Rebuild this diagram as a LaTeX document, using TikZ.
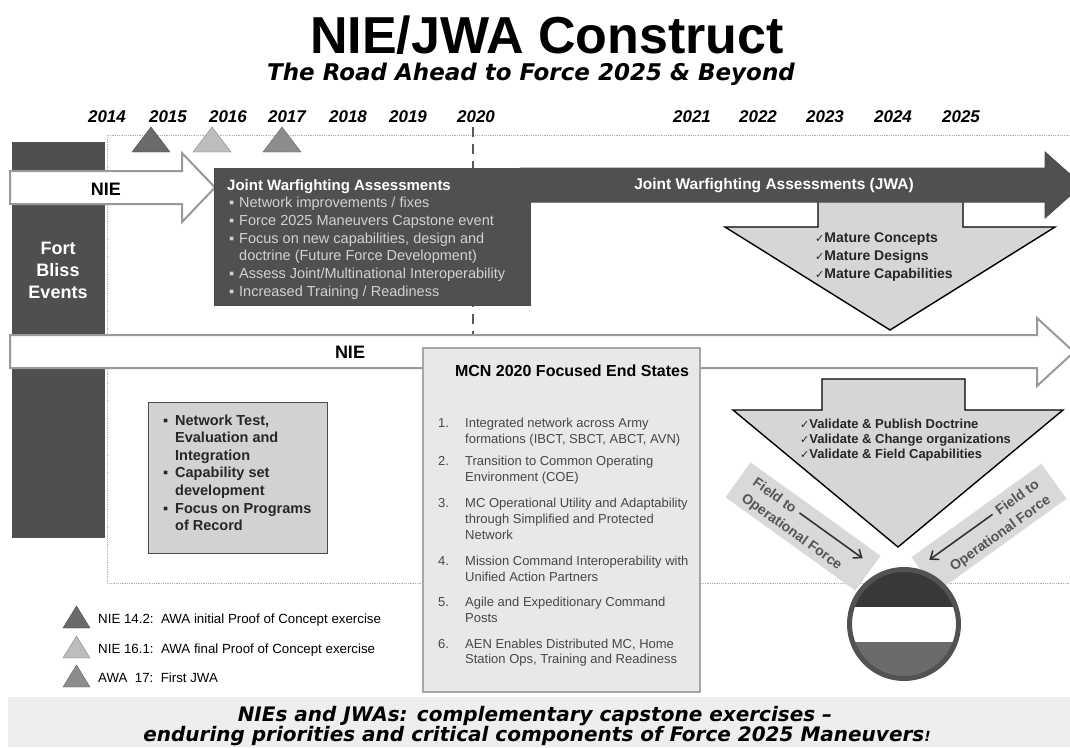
\documentclass[tikz,border=0pt]{standalone}
\usepackage{fontspec}
\setmainfont{Liberation Sans}
\newfontfamily\verd{DejaVu Sans}
\usetikzlibrary{arrows.meta}

\definecolor{darkcol}{HTML}{4F4F4F}
\definecolor{jwagray}{HTML}{505050}
\definecolor{jwatext}{HTML}{D2D2D2}
\definecolor{arrowfill}{HTML}{D6D6D6}
\definecolor{mcnfill}{HTML}{E8E8E8}
\definecolor{netfill}{HTML}{D2D2D2}
\definecolor{bannerfill}{HTML}{EEEEEE}
\definecolor{tridark}{HTML}{6A6A6A}
\definecolor{trilight}{HTML}{BDBDBD}
\definecolor{trimid}{HTML}{8C8C8C}
\definecolor{fieldfill}{HTML}{D9D9D9}
\definecolor{fieldtext}{HTML}{555555}
\definecolor{mcntext}{HTML}{474747}

\newcommand{\fsz}[2]{\fontsize{#1}{#2}\selectfont}
\newcommand{\bul}[1][10pt]{\makebox[#1][l]{▪}}
\newcommand{\nobul}[1][10pt]{\hspace*{#1}}
\newcommand{\itemno}[1]{\makebox[27pt][l]{#1}}
\newcommand{\chk}{{\verd\fsz{11}{11}✓}}

\begin{document}
\begin{tikzpicture}[x=1pt, y=-1pt,
    year/.style={font=\bfseries\itshape\fsz{17}{17}, anchor=base, inner sep=0pt},
    bigword/.style={font=\bfseries\fsz{18}{18}, inner sep=0pt},
    txtline/.style={anchor=base west, inner sep=0pt},
    nieshape/.style={fill=white, draw=black!40, line width=2pt, line join=miter},
    jwashape/.style={fill=jwagray, draw=black!70, line width=1pt, line join=miter},
    downshape/.style={fill=arrowfill, draw=black, line width=1.4pt, line join=miter},
    fieldbox/.style={fill=fieldfill},
    fieldword/.style={font=\bfseries\fsz{14}{14}, text=fieldtext, inner sep=0pt},
    fieldarrow/.style={-{Straight Barb[length=7pt,width=11pt]}, line width=1.6pt, black!80},
    bannerline/.style={font=\verd\bfseries\itshape\fsz{20}{20}, anchor=base, inner sep=0pt}
]
\useasboundingbox (0,0) rectangle (1070,747);
\fill[white] (0,0) rectangle (1070,747);

% Title
\node[font=\bfseries\fsz{52}{52}, anchor=base, inner sep=0pt] (title) at (547,53) {NIE/JWA Construct};
\node[font=\verd\bfseries\itshape\fsz{23}{23}, anchor=base, inner sep=0pt] (subtitle) at (531,80) {The Road Ahead to Force 2025 \& Beyond};

% Years
\foreach \x/\yr in {107/2014, 168/2015, 228/2016, 287/2017, 348/2018, 408/2019, 476/2020, 692/2021, 758/2022, 825/2023, 893/2024, 961/2025}
    \node[year] (y\yr) at (\x,122) {\yr};

% Timeline frame and 2020 line
\draw[gray!60, densely dotted, line width=.8pt] (1070,135) -- (107,135) -- (107,583) -- (1070,583);
\draw[black!65, line width=2.5pt, dash pattern=on 10pt off 7pt] (473,127) -- (473,350);

% Markers
\foreach \x/\c in {151/tridark, 212/trilight, 282/trimid}
    \filldraw[fill=\c, draw=\c!70!black] (\x-19,152) -- (\x+19,152) -- (\x,127) -- cycle;

% Fort Bliss column
\fill[darkcol] (12,142) rectangle (105,538);
\node[font=\bfseries\fsz{18}{22}, text=white, align=center] (bliss) at (58,270) {Fort\\Bliss\\Events};

% NIE arrow (top)
\draw[nieshape] (10,171) -- (182,171) -- (182,153) -- (215,187.5) -- (182,222) -- (182,204) -- (10,204) -- cycle;
\node[bigword] (nie1) at (106,189) {NIE};

% Mature arrow
\draw[downshape] (818,200) -- (963,200) -- (963,227) -- (1055,227) -- (890,330) -- (725,227) -- (818,227) -- cycle;
\foreach \t [count=\i] in {Concepts, Designs, Capabilities}
    \node[txtline, font=\bfseries\fsz{14}{14}, text=black!85] (mature\i) at (815,224+18*\i) {\chk Mature \t};

% JWA arrow
\draw[jwashape] (520,168) -- (1045,168) -- (1045,152) -- (1082,185) -- (1045,218) -- (1045,202) -- (520,202) -- cycle;
\node[font=\bfseries\fsz{15.5}{15.5}, text=white] (jwa) at (774,186) {Joint Warfighting Assessments (JWA)};

% JWA box
\draw[jwashape] (214,168) rectangle (530,305);
\node[txtline, font=\bfseries\fsz{15}{15}, text=white] (jwatitle) at (227,190) {Joint Warfighting Assessments};
\foreach \t [count=\i] in {{\bul Network improvements / fixes}, {\bul Force 2025 Maneuvers Capstone event},
        {\bul Focus on new capabilities, design and}, {\nobul doctrine (Future Force Development)},
        {\bul Assess Joint/Multinational Interoperability}, {\bul Increased Training / Readiness}}
    \node[txtline, font=\fsz{14.5}{14.5}, text=jwatext] (jwa\i) at (229,190+17.7*\i) {\t};

% NIE arrow (long)
\draw[nieshape] (10,335) -- (1037,335) -- (1037,318) -- (1074,352) -- (1037,386) -- (1037,368) -- (10,368) -- cycle;
\node[bigword] (nie2) at (350,352) {NIE};

% MCN end states
\draw[fill=mcnfill, draw=gray!70, line width=1.2pt] (423,348) rectangle (700,692);
\node[font=\bfseries\fsz{16}{16}, anchor=base, inner sep=0pt] (mcntitle) at (572,376) {MCN 2020 Focused End States};
\foreach \y/\t [count=\i] in {427/{\itemno{1.}Integrated network across Army}, 443/{\itemno{}formations (IBCT, SBCT, ABCT, AVN)},
        465/{\itemno{2.}Transition to Common Operating}, 481/{\itemno{}Environment (COE)},
        507/{\itemno{3.}MC Operational Utility and Adaptability}, 523/{\itemno{}through Simplified and Protected}, 539/{\itemno{}Network},
        565/{\itemno{4.}Mission Command Interoperability with}, 581/{\itemno{}Unified Action Partners},
        606/{\itemno{5.}Agile and Expeditionary Command}, 622/{\itemno{}Posts},
        648/{\itemno{6.}AEN Enables Distributed MC, Home}, 663/{\itemno{}Station Ops, Training and Readiness}}
    \node[txtline, font=\fsz{13}{13}, text=mcntext] (mcn\i) at (438,\y) {\t};

% Validate arrow
\draw[downshape] (822,379) -- (965,379) -- (965,410) -- (1063,410) -- (898,547) -- (733,410) -- (822,410) -- cycle;
\foreach \t [count=\i] in {{Publish Doctrine}, {Change organizations}, {Field Capabilities}}
    \node[txtline, font=\bfseries\fsz{13}{13}, text=black!85] (valid\i) at (800,413.5+15*\i) {\chk Validate \& \t};

% Network box
\draw[fill=netfill, draw=black!70, line width=1pt] (148,402) rectangle (327,553);
\foreach \t [count=\i] in {{\bul[12pt]Network Test,}, {\nobul[12pt]Evaluation and}, {\nobul[12pt]Integration},
        {\bul[12pt]Capability set}, {\nobul[12pt]development}, {\bul[12pt]Focus on Programs}, {\nobul[12pt]of Record}}
    \node[txtline, font=\bfseries\fsz{14.5}{14.5}, text=black!85] (net\i) at (163,407.4+17.6*\i) {\t};

% Legend
\foreach \y/\c/\t [count=\i] in {628/tridark/{NIE 14.2:\ \ AWA initial Proof of Concept exercise},
        658/trilight/{NIE 16.1:\ \ AWA final Proof of Concept exercise}, 687/trimid/{AWA\ \ 17:\ \ First JWA}} {
    \filldraw[fill=\c, draw=\c!70!black] (63,\y) -- (90,\y) -- (76.5,\y-22) -- cycle;
    \node[txtline, font=\fsz{13.3}{13.3}] (leg\i) at (98,\y-4.5) {\t};
}

% Field to Operational Force
\begin{scope}[shift={(803,526.5)}, rotate=-35.7, transform shape]
    \fill[fieldbox] (-80,-21.5) rectangle (80,21.5);
    \node[fieldword, anchor=west] (fieldL) at (-66,-9) {Field to};
    \coordinate (fieldLend) at (67,-9);
    \draw[fieldarrow, shorten <=5pt] (fieldL.east) -- (fieldLend);
    \node[fieldword] (opL) at (-6,11.5) {Operational Force};
\end{scope}
\begin{scope}[shift={(989,528)}, rotate=35.7, transform shape]
    \fill[fieldbox] (-80,-21.5) rectangle (80,21.5);
    \node[fieldword, anchor=east] (fieldR) at (66,-9) {Field to};
    \coordinate (fieldRend) at (-67,-9);
    \draw[fieldarrow, shorten <=5pt] (fieldR.west) -- (fieldRend);
    \node[fieldword] (opR) at (6,11.5) {Operational Force};
\end{scope}

% Force circle
\begin{scope}
    \clip (904,624) circle (53pt);
    \fill[black!78] (840,560) rectangle (970,607);
    \fill[white] (840,607) rectangle (970,642);
    \fill[black!58] (840,642) rectangle (970,690);
\end{scope}
\draw[black!68, line width=5pt] (904,624) circle (54.5pt);

% Banner
\fill[bannerfill] (8,697) rectangle (1070,747);
\node[bannerline] (banner1) at (535,721) {NIEs and JWAs: complementary capstone exercises –};
\node[bannerline] (banner2) at (537,741) {enduring priorities and critical components of Force 2025 Maneuvers{\fsz{14}{14}!}};

\end{tikzpicture}
\end{document}
